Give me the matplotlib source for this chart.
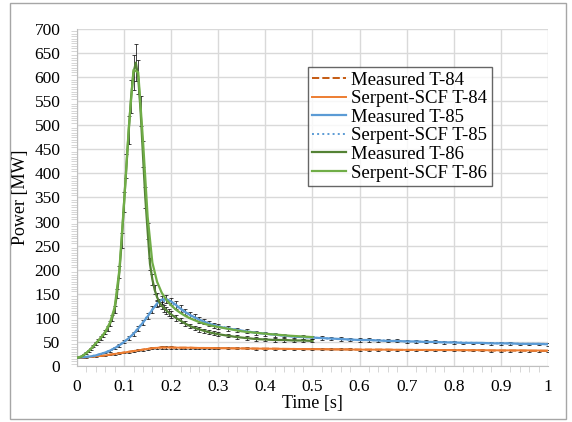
import matplotlib
matplotlib.use("Agg")
import matplotlib.pyplot as plt
from matplotlib.ticker import MultipleLocator
from matplotlib.patches import Rectangle
import numpy as np

plt.rcParams['font.family'] = ['Liberation Serif', 'DejaVu Serif']

# --- Données ---
# Mesures T-84 / T-85
t_meas = [0.00, 0.01, 0.02, 0.03, 0.04, 0.05, 0.06, 0.07, 0.08, 0.09,
          0.10, 0.11, 0.12, 0.13, 0.14, 0.15, 0.16, 0.17, 0.18, 0.19,
          0.20, 0.21, 0.22, 0.23, 0.24, 0.25, 0.26, 0.27, 0.28, 0.29,
          0.30, 0.32, 0.34, 0.36, 0.38, 0.40, 0.42, 0.44, 0.46, 0.48,
          0.50, 0.52, 0.54, 0.56, 0.58, 0.60, 0.62, 0.64, 0.66, 0.68,
          0.70, 0.72, 0.74, 0.76, 0.78, 0.80, 0.82, 0.84, 0.86, 0.88,
          0.90, 0.92, 0.94, 0.96, 0.98, 1.00]
p84_meas = [17, 17.5, 18, 19, 20, 21, 22, 23.5, 25, 26.5,
            28, 29.5, 31, 32.5, 34, 35.5, 37, 38, 38.5, 38.5,
            38.5, 38, 38, 38, 38, 37.5, 37.5, 37.5, 37, 37,
            37, 37, 36.5, 36.5, 36, 36, 36, 35.5, 35.5, 35,
            35, 35, 34.5, 34.5, 34.5, 34, 34, 34, 34, 33.5,
            33.5, 33.5, 33, 33, 33, 33, 32.5, 32.5, 32.5, 32,
            32, 32, 32, 31.5, 31.5, 31.5]
p85_meas = [17, 18, 19, 20, 22, 25, 28, 32, 37, 43,
            50, 58, 67, 78, 90, 103, 117, 130, 138, 139,
            134, 127, 119, 112, 106, 101, 96, 92, 88, 85,
            82, 78, 75, 72, 69, 67, 65, 63, 61, 60,
            59, 58, 57, 56, 55, 54, 54, 53, 52, 52,
            51, 51, 50, 50, 49, 49, 48, 48, 48, 47,
            47, 47, 46, 46, 46, 45]

# Mesures T-86
t86_meas = [0.000, 0.005, 0.010, 0.015, 0.020, 0.025, 0.030, 0.035, 0.040, 0.045,
            0.050, 0.055, 0.060, 0.065, 0.070, 0.075, 0.080, 0.085, 0.090, 0.095,
            0.100, 0.105, 0.110, 0.115, 0.120, 0.125, 0.130, 0.135, 0.140, 0.145,
            0.150, 0.155, 0.160, 0.165, 0.170, 0.175, 0.180, 0.185, 0.190, 0.195,
            0.200, 0.21, 0.22, 0.23, 0.24, 0.25, 0.26, 0.27, 0.28, 0.29,
            0.30, 0.32, 0.34, 0.36, 0.38, 0.40, 0.42, 0.44, 0.46, 0.48, 0.50]
p86_meas = [17, 18, 20, 23, 27, 31, 36, 41, 47, 52,
            58, 63, 70, 78, 88, 100, 118, 150, 195, 260,
            340, 415, 490, 560, 610, 630, 600, 530, 440, 350,
            280, 212, 180, 158, 143, 132, 125, 120, 115, 111,
            107, 100, 94, 88, 83, 79, 76, 73, 70, 68,
            66, 63, 60, 58, 56, 55, 54, 54, 53, 53, 52]

meas_rel_err = 0.06  # incertitude relative des mesures

# Calculs Serpent-SCF
t_sim = [0.00, 0.02, 0.04, 0.06, 0.08, 0.10, 0.12, 0.14, 0.16, 0.18,
         0.20, 0.22, 0.24, 0.26, 0.28, 0.30, 0.35, 0.40, 0.45, 0.50,
         0.55, 0.60, 0.65, 0.70, 0.75, 0.80, 0.85, 0.90, 0.95, 1.00]
p84_sim = [17, 18, 20, 22, 25, 28, 31, 34, 37, 38.5,
           38.5, 38, 38, 37.5, 37.5, 37, 36.5, 36, 35.5, 35,
           34.5, 34, 34, 33.5, 33.5, 33, 33, 32.5, 32.5, 32]
p85_sim = [17, 19, 22, 28, 37, 50, 67, 91, 118, 136,
           132, 118, 105, 96, 89, 83, 73, 67, 62, 59,
           56, 54, 53, 51, 50, 49, 48, 47, 46, 46]

t86_sim = [0.00, 0.01, 0.02, 0.03, 0.04, 0.05, 0.06, 0.07, 0.08, 0.09,
           0.10, 0.11, 0.12, 0.13, 0.14, 0.15, 0.16, 0.17, 0.18, 0.19,
           0.20, 0.21, 0.22, 0.23, 0.24, 0.25, 0.26, 0.27, 0.28, 0.29,
           0.30, 0.35, 0.40, 0.45, 0.50]
p86_sim = [17, 20, 27, 36, 47, 58, 71, 90, 122, 200,
           340, 495, 615, 610, 470, 310, 215, 175, 152, 137,
           126, 117, 110, 104, 99, 95, 91, 88, 85, 83,
           81, 72, 67, 63, 60]

fig = plt.figure(figsize=(5.72, 4.22), dpi=100)
ax = fig.add_axes([0.1346, 0.1327, 0.8234, 0.7986])

# Barres d'erreur des mesures
for t, p in [(t_meas, p84_meas), (t_meas, p85_meas), (t86_meas, p86_meas)]:
    p = np.array(p)
    ax.errorbar(t, p, yerr=meas_rel_err * p, fmt='none', ecolor='black',
                elinewidth=0.6, capsize=1.6, capthick=0.6, alpha=0.85, zorder=2)

ax.plot(t_meas, p84_meas, '--', color='#C55A11', lw=1.4, label='Measured T-84', zorder=3)
ax.plot(t_sim, p84_sim, '-', color='#ED7D31', lw=1.4, label='Serpent-SCF T-84', zorder=3)
ax.plot(t_meas, p85_meas, '-', color='#5B9BD5', lw=1.6, label='Measured T-85', zorder=3)
ax.plot(t_sim, p85_sim, ':', color='#5B9BD5', lw=1.4, label='Serpent-SCF T-85', zorder=3)
ax.plot(t86_meas, p86_meas, '-', color='#548235', lw=1.6, label='Measured T-86', zorder=3)
ax.plot(t86_sim, p86_sim, '-', color='#70AD47', lw=1.6, label='Serpent-SCF T-86', zorder=3)

ax.set_xlim(0, 1)
ax.set_ylim(0, 700)
ax.xaxis.set_minor_locator(MultipleLocator(0.02))
ax.yaxis.set_major_locator(MultipleLocator(50))
ax.yaxis.set_minor_locator(MultipleLocator(5))
ax.set_xticks(np.arange(0, 1.01, 0.1))
ax.set_xticklabels(['0', '0.1', '0.2', '0.3', '0.4', '0.5', '0.6', '0.7', '0.8', '0.9', '1'])

ax.grid(True, which='major', color='#d9d9d9', lw=1.0, zorder=0)
ax.set_axisbelow(True)
for s in ['top', 'right']:
    ax.spines[s].set_visible(False)
for s in ['left', 'bottom']:
    ax.spines[s].set_color('#bfbfbf')
ax.tick_params(which='major', length=0, labelsize=12.5, colors='#000000')
ax.tick_params(axis='y', which='major', pad=12)
ax.tick_params(axis='x', which='major', pad=9)
ax.tick_params(which='minor', length=4, color='#d0d0d0', direction='out')

ax.set_xlabel('Time [s]', fontsize=13, labelpad=0)
ax.set_ylabel('Power [MW]', fontsize=13, labelpad=4)

leg = ax.legend(loc='upper left', bbox_to_anchor=(0.49, 0.888), fontsize=13.5,
                frameon=True, fancybox=False, edgecolor='#404040',
                handlelength=1.8, handletextpad=0.25, borderpad=0.25,
                labelspacing=0.08, borderaxespad=0)
leg.get_frame().set_linewidth(1.0)

# Cadre extérieur de la figure
fig.patches.append(Rectangle((10 / 572, 3 / 422), 556 / 572, 416 / 422,
                             transform=fig.transFigure, fill=False,
                             edgecolor='#a6a6a6', lw=1.0))

fig.savefig('out.png', dpi=100)
